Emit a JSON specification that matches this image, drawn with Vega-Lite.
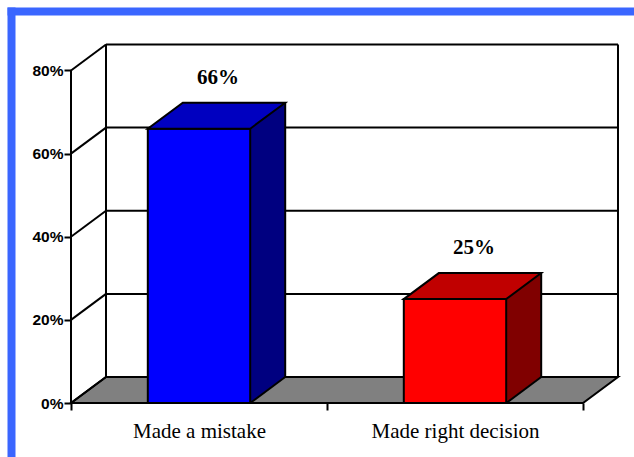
{
  "$schema": "https://vega.github.io/schema/vega-lite/v6.json",
  "width": 623,
  "height": 446,
  "autosize": {"type": "none"},
  "padding": {"left": 11, "top": 11, "right": 0, "bottom": 0},
  "background": "white",
  "config": {
    "view": {"stroke": null, "fill": "white"},
    "axis": {"zindex": 1}
  },
  "datasets": {
    "bars": [
      {"category": "Made a mistake", "value": 0.66},
      {"category": "Made right decision", "value": 0.25}
    ],
    "ticks": [{"v": 0}, {"v": 0.2}, {"v": 0.4}, {"v": 0.6}, {"v": 0.8}],
    "frame": [{"element": "floor"}]
  },
  "layer": [
    {
      "data": {"name": "frame"},
      "mark": {"type": "point", "shape": "M0,0L512,0L547,-26L35,-26Z", "size": 4, "filled": true, "fill": "#808080", "stroke": "black", "strokeWidth": 2, "opacity": 1},
      "encoding": {
        "x": {
          "datum": "Made a mistake", "type": "nominal", "bandPosition": 0,
          "scale": {"type": "band", "domain": ["Made a mistake", "Made right decision"], "paddingInner": 0, "paddingOuter": 0.2168, "align": 0.54054},
          "axis": {"orient": "bottom", "offset": -54, "domain": false, "tickBand": "extent", "tickSize": 7, "tickWidth": 2, "tickColor": "black", "labelFont": "Liberation Serif", "labelFontSize": 21, "labelColor": "black", "labelBaseline": "alphabetic", "labelPadding": 27, "labelAngle": 0, "title": null}
        },
        "y": {
          "datum": 0, "type": "quantitative",
          "scale": {"domain": [-0.12992, 0.94315], "nice": false, "zero": false},
          "axis": {"orient": "left", "values": [0, 0.2, 0.4, 0.6, 0.8], "format": ".0%", "offset": -60, "domain": false, "grid": false, "tickSize": 7, "tickWidth": 2, "tickColor": "black", "labelFont": "Liberation Sans", "labelFontWeight": "bold", "labelFontSize": 15.5, "labelColor": "black", "labelPadding": 1, "labelBaseline": "middle", "title": null}
        }
      }
    },
    {
      "data": {"name": "ticks"},
      "mark": {"type": "rule", "stroke": "black", "strokeWidth": 2, "xOffset": 35, "x2Offset": 35, "yOffset": -26, "y2Offset": -26},
      "encoding": {
        "x": {"datum": "Made a mistake", "type": "nominal", "bandPosition": 0, "axis": null},
        "x2": {"datum": "Made right decision", "bandPosition": 1},
        "y": {"field": "v", "type": "quantitative", "axis": null},
        "y2": {"field": "v"}
      }
    },
    {
      "data": {"name": "ticks"},
      "mark": {"type": "rule", "stroke": "black", "strokeWidth": 2, "x2Offset": 35, "y2Offset": -26},
      "encoding": {
        "x": {"datum": "Made a mistake", "type": "nominal", "bandPosition": 0, "axis": null},
        "x2": {"datum": "Made a mistake", "bandPosition": 0},
        "y": {"field": "v", "type": "quantitative", "axis": null},
        "y2": {"field": "v"}
      }
    },
    {
      "data": {"name": "frame"},
      "mark": {"type": "rule", "stroke": "black", "strokeWidth": 2, "xOffset": 35, "yOffset": -26, "y2Offset": -26},
      "encoding": {
        "x": {"datum": "Made a mistake", "type": "nominal", "bandPosition": 0, "axis": null},
        "y": {"datum": 0, "type": "quantitative", "axis": null},
        "y2": {"datum": 0.8}
      }
    },
    {
      "data": {"name": "frame"},
      "mark": {"type": "rule", "stroke": "black", "strokeWidth": 2, "xOffset": 35, "yOffset": -26, "y2Offset": -26},
      "encoding": {
        "x": {"datum": "Made right decision", "type": "nominal", "bandPosition": 1, "axis": null},
        "y": {"datum": 0, "type": "quantitative", "axis": null},
        "y2": {"datum": 0.8}
      }
    },
    {
      "data": {"name": "frame"},
      "mark": {"type": "rule", "stroke": "black", "strokeWidth": 2},
      "encoding": {
        "x": {"datum": "Made a mistake", "type": "nominal", "bandPosition": 0,
          "axis": {"orient": "top", "offset": 0, "domain": true, "domainColor": "#3a66ff", "domainWidth": 8, "domainCap": "square", "ticks": false, "labels": false, "grid": false, "title": null}},
        "y": {"datum": 0, "type": "quantitative",
          "axis": {"orient": "left", "offset": 0, "domain": true, "domainColor": "#3a66ff", "domainWidth": 8, "domainCap": "square", "ticks": false, "labels": false, "grid": false, "title": null}},
        "y2": {"datum": 0.8}
      }
    },
    {
      "data": {"name": "bars"},
      "mark": {"type": "bar", "width": {"band": 0.4}, "xOffset": 35, "yOffset": -26, "y2Offset": -26, "strokeWidth": 0},
      "encoding": {
        "x": {"field": "category", "type": "nominal", "axis": null},
        "y": {"field": "value", "type": "quantitative", "axis": null},
        "y2": {"datum": 0},
        "fill": {"field": "category", "type": "nominal", "scale": {"range": ["#000080", "#800000"]}, "legend": null}
      }
    },
    {
      "data": {"name": "bars"},
      "mark": {"type": "point", "shape": "M50.7,-26.5L50.7,0L86.2,-26.5Z", "size": 4, "filled": true, "opacity": 1, "strokeWidth": 0},
      "encoding": {
        "x": {"field": "category", "type": "nominal", "axis": null},
        "y": {"datum": 0, "type": "quantitative", "axis": null},
        "fill": {"field": "category", "type": "nominal", "scale": {"range": ["#000080", "#800000"]}, "legend": null}
      }
    },
    {
      "data": {"name": "bars"},
      "mark": {"type": "bar", "width": {"band": 0.4}, "stroke": "black", "strokeWidth": 2},
      "encoding": {
        "x": {"field": "category", "type": "nominal", "axis": null},
        "y": {"field": "value", "type": "quantitative", "axis": null},
        "y2": {"datum": 0},
        "fill": {"field": "category", "type": "nominal", "scale": {"range": ["#0000ff", "#ff0000"]}, "legend": null}
      }
    },
    {
      "data": {"name": "bars"},
      "mark": {"type": "point", "shape": "M-51.2,0L51.2,0L86.2,-26L-16.2,-26Z", "size": 4, "filled": true, "opacity": 1, "stroke": "black", "strokeWidth": 2},
      "encoding": {
        "x": {"field": "category", "type": "nominal", "axis": null},
        "y": {"field": "value", "type": "quantitative", "axis": null},
        "fill": {"field": "category", "type": "nominal", "scale": {"range": ["#0000c0", "#c00000"]}, "legend": null}
      }
    },
    {
      "data": {"name": "bars"},
      "mark": {"type": "rule", "stroke": "black", "strokeWidth": 2, "xOffset": 86.2, "yOffset": -26, "y2Offset": -26},
      "encoding": {
        "x": {"field": "category", "type": "nominal", "axis": null},
        "y": {"field": "value", "type": "quantitative", "axis": null},
        "y2": {"datum": 0}
      }
    },
    {
      "data": {"name": "bars"},
      "mark": {"type": "point", "shape": "M51.2,0L86.2,-26", "size": 4, "filled": false, "opacity": 1, "stroke": "black", "strokeWidth": 2},
      "encoding": {
        "x": {"field": "category", "type": "nominal", "axis": null},
        "y": {"datum": 0, "type": "quantitative", "axis": null}
      }
    },
    {
      "data": {"name": "bars"},
      "mark": {"type": "text", "font": "Liberation Serif", "fontWeight": "bold", "fontSize": 21, "color": "black", "align": "center", "baseline": "alphabetic", "xOffset": 19, "yOffset": -45},
      "encoding": {
        "x": {"field": "category", "type": "nominal", "axis": null},
        "y": {"field": "value", "type": "quantitative", "axis": null},
        "text": {"field": "value", "type": "quantitative", "format": ".0%"}
      }
    }
  ],
  "resolve": {"scale": {"fill": "independent"}, "axis": {"x": "independent", "y": "independent"}}
}
